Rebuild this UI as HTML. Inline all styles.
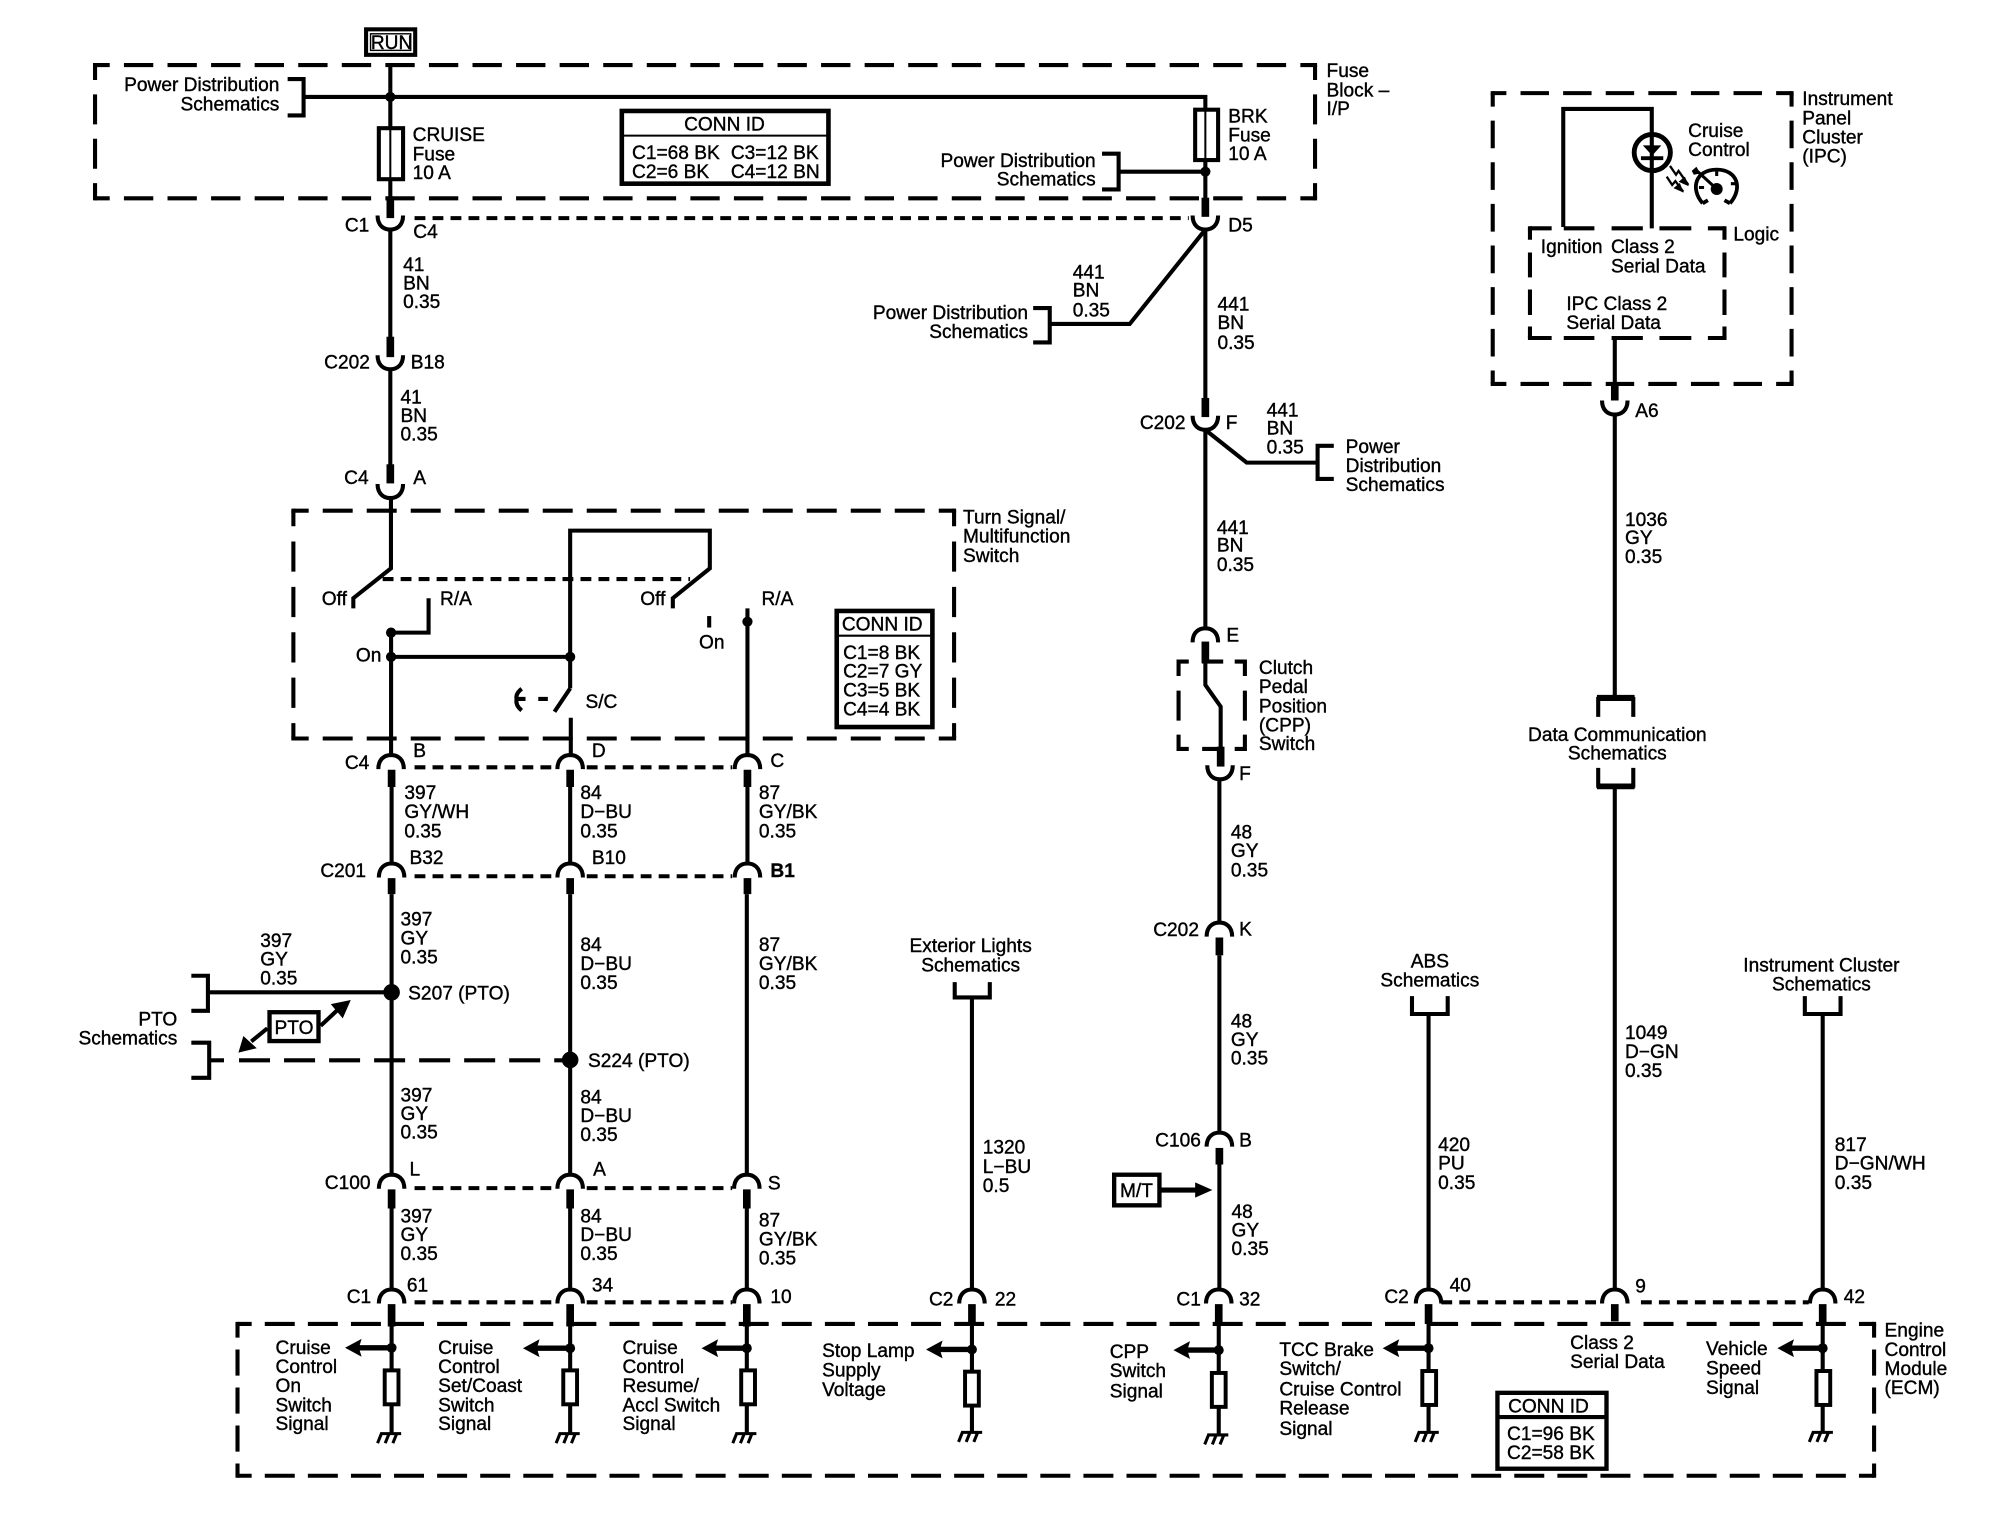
<!DOCTYPE html>
<html><head><meta charset="utf-8"><title>Cruise Control Schematic</title>
<style>
html,body{margin:0;padding:0;background:#fff}
svg{display:block;width:2000px;height:1520px}
text{font-family:"Liberation Sans",sans-serif;font-size:15px;fill:#000;stroke:#000;stroke-width:.3}
.m{text-anchor:middle}.e{text-anchor:end}
.w{fill:none;stroke:#000;stroke-width:3.2}
.t{fill:none;stroke:#000;stroke-width:6}
.d{fill:none;stroke:#000;stroke-width:3.2}
.c{fill:none;stroke:#000;stroke-width:3.2;stroke-linecap:square}
.s{fill:none;stroke:#000;stroke-width:3.2;stroke-dasharray:8.5 5.6}
.f{fill:#000;stroke:none}
</style></head><body>
<svg xmlns="http://www.w3.org/2000/svg" viewBox="0 0 1568 1191.7">
<defs>
<path id="u" class="w" d="M-10,-11 C-10,-3 -5,0 0,0 C5,0 10,-3 10,-11"/>
<path id="a" class="w" d="M-10,11 C-10,3 -5,0 0,0 C5,0 10,3 10,11"/>
<g id="g"><path fill="none" stroke="#000" stroke-width="2.4" d="M-8,0 H8.5 M-7,0 L-10,7.5 M-1,0 L-4,7.5 M5,0 L2,7.5"/></g>
<rect id="r" x="-5.4" y="1.4" width="10.8" height="26.6" fill="#fff" stroke="#000" stroke-width="3.1"/>
<g id="ar"><polygon class="f" points="0,0 13,-7 11.5,-2.1 38,-2.1 38,2.1 11.5,2.1 13,7"/></g>
</defs>
<rect width="1568" height="1192" fill="#fff"/>

<!-- dashed module boxes -->
<path class="d" style="stroke-dasharray:23 11.16;stroke-dashoffset:11.5" d="M74.5,51 H1031 M74.5,155.5 H1031"/>
<path class="d" style="stroke-dasharray:23.5 11.3;stroke-dashoffset:11.8" d="M74.5,51 V155.5 M1031,51 V155.5"/>
<path class="c" d="M74.5,51h.01 M1031,51h.01 M74.5,155.5h.01 M1031,155.5h.01"/>

<path class="d" style="stroke-dasharray:23.5 11;stroke-dashoffset:11.5" d="M230,400.4 H748 M230,579 H748"/>
<path class="d" style="stroke-dasharray:23.7 11.9;stroke-dashoffset:11.5" d="M230,400.4 V579 M748,400.4 V579"/>
<path class="c" d="M230,400.4h.01 M748,400.4h.01 M230,579h.01 M748,579h.01"/>

<path class="d" style="stroke-dasharray:23.5 10.28;stroke-dashoffset:12.4" d="M186.2,1038 H1469.3 M186.2,1157 H1469.3"/>
<path class="d" style="stroke-dasharray:20.5 9.3;stroke-dashoffset:9.8" d="M186.2,1038 V1157 M1469.3,1038 V1157"/>
<path class="c" d="M186.2,1038h.01 M1469.3,1038h.01 M186.2,1157h.01 M1469.3,1157h.01"/>

<path class="d" style="stroke-dasharray:22.3 11.1;stroke-dashoffset:11.6" d="M1170.3,73 H1404.6 M1170.3,301 H1404.6"/>
<path class="d" style="stroke-dasharray:21.7 10.95;stroke-dashoffset:11.1" d="M1170.3,73 V301 M1404.6,73 V301"/>
<path class="c" d="M1170.3,73h.01 M1404.6,73h.01 M1170.3,301h.01 M1404.6,301h.01"/>

<path class="d" d="M1199.5,179 H1216.5 M1226,179 H1250 M1263.5,179 H1288 M1301,179 H1326 M1339,179 H1352 M1199.5,265 H1216.5 M1226,265 H1250 M1263.5,265 H1288 M1301,265 H1326 M1339,265 H1352 M1199.5,179 V188 M1199.5,198 V217.5 M1199.5,227 V247 M1199.5,256 V265 M1352,179 V188 M1352,198 V217.5 M1352,227 V247 M1352,256 V265"/>
<path class="c" d="M1199.5,179h.01 M1352,179h.01 M1199.5,265h.01 M1352,265h.01"/>

<path class="w" d="M924,530 V518.7 H932 M942.5,518.7 H959 M968,518.7 H976 V530 M924,541.5 V565 M976,541.5 V565 M924,576 V587.2 H932 M942.5,587.2 H959 M968,587.2 H976 V576"/>

<!-- connector dashed lines -->
<path class="s" d="M325,171 H932"/>
<path class="s" d="M300,454 H541"/>
<path class="s" d="M325,601.6 H434 M460,601.6 H574"/>
<path class="s" d="M325,687 H434 M460,687 H574"/>
<path class="s" d="M325,931.5 H434 M460,931.5 H574"/>
<path class="s" d="M325,1021 H434 M460,1021 H574"/>
<path class="s" d="M1130,1021 H1253 M1286.5,1021 H1418"/>

<!-- RUN -->
<rect x="287" y="23" width="38.5" height="20" fill="#fff" stroke="#000" stroke-width="3.2"/>
<rect x="290.5" y="26.5" width="31.5" height="13" fill="none" stroke="#000" stroke-width="1.1"/>
<text class="m" x="307" y="38.6">RUN</text>

<!-- wire 41 -->
<path class="w" d="M306,51 V155 M237,76 H945 V85"/>
<circle class="f" cx="306" cy="76" r="4"/>
<path class="w" d="M225.5,62 H238 V90.5 H225.5"/>
<rect x="297" y="100.5" width="19" height="40" fill="#fff" stroke="#000" stroke-width="3.2"/>
<path style="stroke-width:1.6" class="w" d="M306,100 V141"/>
<path class="t" d="M306,154 V171"/><use href="#u" x="306" y="180"/>
<path class="w" d="M306,180 V265"/><path class="t" d="M306,264 V280"/><use href="#u" x="306" y="289.5"/>
<path class="w" d="M306,289 V365"/><path class="t" d="M306,364 V379"/><use href="#u" x="306" y="390.5"/>
<path class="w" d="M306.5,390 V445.6 L277,469 V477"/>

<!-- BRK -->
<rect x="937" y="86" width="18" height="39.5" fill="#fff" stroke="#000" stroke-width="3.2"/>
<path style="stroke-width:1.6" class="w" d="M945,86 V125"/>
<path class="w" d="M945,125 V156 M878,134.6 H945"/>
<circle class="f" cx="945" cy="134.6" r="4"/>
<path class="w" d="M864,120.5 H877 V148.5 H864"/>
<path class="t" d="M945,155 V170"/><use href="#u" x="945" y="180"/>
<path class="w" d="M945,180 V313 M945,180 L885.7,254 H824"/>
<path class="w" d="M810,241.5 H823 V268.5 H810"/>
<path class="t" d="M945,312 V327"/><use href="#u" x="945" y="337"/>
<path class="w" d="M945,337 V492.6 M945,337 L977.4,362.7 H1033"/>
<path class="w" d="M1045.7,349.5 H1033 V375.5 H1045.7"/>
<use href="#a" x="945" y="492.6"/>
<path class="t" d="M945,503 V520"/>
<path class="w" d="M945,520 V537 L957,554 V586"/>
<path class="t" d="M957,585.4 V601"/><use href="#u" x="956.5" y="611"/>
<path class="w" d="M956,611 V723.5"/><use href="#a" x="956" y="723.3"/>
<path class="t" d="M956,735 V749"/>
<path class="w" d="M956,749 V888"/><use href="#a" x="956" y="888"/>
<path class="t" d="M956,900 V913"/>
<path class="w" d="M956,913 V1011"/>
<rect x="873.5" y="921" width="35.5" height="24" fill="#fff" stroke="#000" stroke-width="3.4"/>
<path class="f" d="M910,931 H937 V927 L950.5,933 L937,939 V935 H910 Z"/>

<!-- switch block -->
<path class="w" d="M336,469 V496 H306.6"/>
<circle class="f" cx="306.6" cy="496" r="4"/>
<path class="w" d="M306.6,496 V592 M306.6,515 H447"/>
<circle class="f" cx="306.6" cy="515" r="4"/><circle class="f" cx="447" cy="515" r="4"/>
<path class="w" d="M447,539.7 V416 H556.5 V445.6 L527.5,469 V477"/>
<path class="w" d="M447,539.7 L434.7,558 M447.5,562.7 V592"/>
<path class="w" d="M422,548 H429.5 M409,540 Q404,544 405,548 Q404,553 409,557 M405,548 H412"/>
<path class="w" d="M556,483 V492"/>
<path class="w" d="M586,477 V592"/><circle class="f" cx="586" cy="487.4" r="4"/>
<rect x="656" y="479" width="75" height="91" fill="#fff" stroke="#000" stroke-width="3.6"/>
<path style="stroke-width:1.6" class="w" d="M656,498.4 H731"/>

<!-- three main wires -->
<g>
<use href="#a" x="306.6" y="592"/><use href="#a" x="447" y="592"/><use href="#a" x="586" y="592"/>
<path class="t" d="M307,603.5 V617 M447,603.5 V617 M586,603.5 V617"/>
<path class="w" d="M307,617 V677 M447,617 V677 M586,617 V677"/>
<use href="#a" x="307" y="677"/><use href="#a" x="447" y="677"/><use href="#a" x="586" y="677"/>
<path class="t" d="M307,688.5 V701 M447,688.5 V701 M586,688.5 V701"/>
<path class="w" d="M307,701 V921 M447,701 V921 M585.5,701 V921"/>
<use href="#a" x="307" y="921"/><use href="#a" x="447" y="921"/><use href="#a" x="585.5" y="921"/>
<path class="t" d="M307,932.5 V947.5 M447,932.5 V947.5 M585.5,932.5 V947.5"/>
<path class="w" d="M307,947 V1011 M447,947 V1011 M585.5,947 V1011"/>
</g>
<!-- PTO -->
<circle class="f" cx="307" cy="778" r="6.5"/><circle class="f" cx="447" cy="831" r="6.5"/>
<path class="w" d="M163.5,778 H307"/>
<path class="w" d="M150,765 H163 V792.5 H150"/>
<path class="w" d="M150,817.5 H164 V845 H150"/>
<path class="d" d="M164,831.3 H175.6"/>
<path class="d" style="stroke-dasharray:24.3 11" d="M187.4,831.3 H447"/>
<rect x="211.3" y="793.6" width="38.4" height="22.6" fill="#fff" stroke="#000" stroke-width="3.4"/>
<path class="w" d="M209.6,806.2 L197,816.5 M251.4,804.2 L265,791.5"/>
<polygon class="f" points="186.9,825.3 190.8,812.2 201.3,821.8"/>
<polygon class="f" points="275,784 259.3,787.2 268.7,798.4"/>

<!-- right wires -->
<path class="w" d="M748.5,770 V782 H776 V770"/><path class="w" d="M762,782 V1011"/>
<path class="w" d="M1107,781 V795 H1135 V781"/><path class="w" d="M1120,795 V1011"/>
<path class="w" d="M1415,781 V795 H1443 V781"/><path class="w" d="M1429,795 V1011"/>
<path class="w" d="M1266,265 V302 M1266,325 V546 M1266,617 V1011"/>
<path class="t" d="M1266,301 V314"/><use href="#u" x="1266" y="325"/>
<path class="w" d="M1253,562 V548 H1280.5 V562"/>
<path style="stroke-width:4.5" class="w" d="M1252,547 H1281.5"/>
<path class="w" d="M1253,602 V616 H1280.5 V602"/>
<path style="stroke-width:4.5" class="w" d="M1252,616.5 H1281.5"/>

<!-- IPC contents -->
<path class="w" d="M1225.6,178 V85.4 H1295 V179"/>
<circle cx="1295.4" cy="119.6" r="14.2" fill="#fff" stroke="#000" stroke-width="3.8"/>
<path class="w" d="M1295,105 V134"/>
<polygon class="f" points="1288,114 1302.5,114 1295.3,122"/>
<path class="w" style="stroke-width:3" d="M1286.5,124 H1304"/>
<path fill="none" stroke="#000" stroke-width="1.8" d="M1309.3,130.1 L1314,137 L1316,134 L1323.7,145 M1306.7,138.5 L1311,145 L1313.5,142 L1319.7,150.3"/>
<polygon class="f" points="1324,146 1316,142.5 1321,138.5"/><polygon class="f" points="1320,151 1312,147.5 1317,143.5"/>
<path class="w" style="stroke-width:3" d="M1334.9,159.4 C1325,148 1329,133 1345.9,133 C1362.5,133 1366.5,148 1356.3,159.4 M1334.9,159.4 L1339,157 M1356.3,159.4 L1352,157"/>
<path fill="none" stroke="#000" stroke-width="2.4" d="M1345.9,148.2 L1331,134.5 M1345.9,133 V138 M1332,147 H1336 M1361,144 H1357"/>
<circle class="f" cx="1345.9" cy="148.2" r="4.7"/>
<polygon class="f" points="1326.3,134 1330,130.7 1333,135.9 1328,137"/>

<!-- ECM columns -->
<path class="t" d="M307,1022.5 V1040 M447,1022.5 V1040 M585.5,1022.5 V1040 M762,1022.5 V1038 M955.5,1022.5 V1038 M1120,1022.5 V1038 M1266,1022.5 V1036 M1429,1022.5 V1038"/>
<use href="#a" x="307" y="1011"/><use href="#a" x="447" y="1011"/><use href="#a" x="585.5" y="1011"/>
<use href="#a" x="762" y="1011"/><use href="#a" x="955.5" y="1011"/><use href="#a" x="1120" y="1011"/><use href="#a" x="1266" y="1011"/><use href="#a" x="1429" y="1011"/>
<path class="w" d="M307,1038 V1124 M447,1038 V1124 M585.5,1038 V1124 M762,1038 V1123 M955.5,1038 V1125 M1120,1038 V1123 M1429,1038 V1123"/>
<use href="#ar" x="270.5" y="1056.7"/><use href="#ar" x="410" y="1057"/><use href="#ar" x="550" y="1057"/>
<use href="#ar" x="726" y="1058"/><use href="#ar" x="920" y="1058.5"/><use href="#ar" x="1084" y="1057"/><use href="#ar" x="1393.5" y="1057"/>
<circle class="f" cx="307" cy="1056.7" r="3.9"/><circle class="f" cx="447" cy="1057" r="3.9"/><circle class="f" cx="585.5" cy="1057" r="3.9"/>
<circle class="f" cx="762" cy="1058" r="3.9"/><circle class="f" cx="955.5" cy="1058.5" r="3.9"/><circle class="f" cx="1120" cy="1057" r="3.9"/><circle class="f" cx="1429" cy="1057" r="3.9"/>
<use href="#r" x="307" y="1073"/><use href="#r" x="447" y="1073"/><use href="#r" x="586.5" y="1073"/>
<use href="#r" x="762" y="1074"/><use href="#r" x="955.5" y="1075"/><use href="#r" x="1120.5" y="1073.5"/><use href="#r" x="1429.5" y="1073.5"/>
<use href="#g" x="306" y="1124"/><use href="#g" x="446" y="1124"/><use href="#g" x="584.5" y="1124"/>
<use href="#g" x="761.5" y="1123"/><use href="#g" x="954.5" y="1125"/><use href="#g" x="1119.5" y="1123"/><use href="#g" x="1428.5" y="1123"/>

<!-- CONN ID boxes -->
<rect x="487.5" y="87" width="162" height="57" fill="#fff" stroke="#000" stroke-width="3.6"/>
<path style="stroke-width:1.6" class="w" d="M488,106.3 H650"/>
<rect x="1174" y="1092" width="85.5" height="59.5" fill="#fff" stroke="#000" stroke-width="3.4"/>
<path class="w" d="M1174,1111 H1259"/>

<!-- TEXT -->
<text class="e" x="219"><tspan x="219" y="71.5">Power Distribution</tspan><tspan x="219" y="86.5">Schematics</tspan></text>
<text><tspan x="323.5" y="110.7">CRUISE</tspan><tspan x="323.5" y="125.8">Fuse</tspan><tspan x="323.5" y="140.4">10 A</tspan></text>
<text class="m" x="568" y="102.5">CONN ID</text>
<text><tspan x="495.5" y="124.5">C1=68 BK</tspan><tspan x="495.5" y="139.5">C2=6 BK</tspan><tspan x="573" y="124.5">C3=12 BK</tspan><tspan x="573" y="139.5">C4=12 BN</tspan></text>
<text><tspan x="963" y="96">BRK</tspan><tspan x="963" y="111">Fuse</tspan><tspan x="963" y="125.5">10 A</tspan></text>
<text class="e"><tspan x="859" y="131">Power Distribution</tspan><tspan x="859" y="145.5">Schematics</tspan></text>
<text><tspan x="1040" y="60.5">Fuse</tspan><tspan x="1040" y="75.5">Block –</tspan><tspan x="1040" y="90">I/P</tspan></text>
<text class="e" x="289.5" y="181.5">C1</text><text x="324" y="186.5">C4</text><text x="963" y="181.5">D5</text>
<text><tspan x="316" y="212.5">41</tspan><tspan x="316" y="227">BN</tspan><tspan x="316" y="241.5">0.35</tspan></text>
<text class="e" x="290" y="289">C202</text><text x="322" y="289">B18</text>
<text><tspan x="314" y="316.5">41</tspan><tspan x="314" y="331">BN</tspan><tspan x="314" y="345.5">0.35</tspan></text>
<text class="e" x="289" y="379.5">C4</text><text x="324" y="379.5">A</text>
<text><tspan x="755" y="410.5">Turn Signal/</tspan><tspan x="755" y="425.5">Multifunction</tspan><tspan x="755" y="440.5">Switch</tspan></text>
<text class="e" x="272" y="474.5">Off</text><text x="345" y="474.5">R/A</text><text x="502" y="474.5">Off</text><text x="597" y="474.5">R/A</text>
<text x="279" y="518.5">On</text><text x="548" y="508.5">On</text><text x="459" y="555">S/C</text>
<text x="660" y="494.5">CONN ID</text>
<text><tspan x="661" y="516.5">C1=8 BK</tspan><tspan x="661" y="531">C2=7 GY</tspan><tspan x="661" y="546">C3=5 BK</tspan><tspan x="661" y="561">C4=4 BK</tspan></text>
<text class="e" x="289.5" y="603">C4</text><text x="324" y="593.5">B</text><text x="464" y="593.5">D</text><text x="604" y="601.5">C</text>
<text><tspan x="317" y="626.5">397</tspan><tspan x="317" y="641.5">GY/WH</tspan><tspan x="317" y="656.5">0.35</tspan></text>
<text><tspan x="455" y="626.5">84</tspan><tspan x="455" y="641.5">D−BU</tspan><tspan x="455" y="656.5">0.35</tspan></text>
<text><tspan x="595" y="626.5">87</tspan><tspan x="595" y="641.5">GY/BK</tspan><tspan x="595" y="656.5">0.35</tspan></text>
<text class="e" x="287" y="687.5">C201</text><text x="321" y="677.5">B32</text><text x="464" y="677.5">B10</text><text x="604" y="687.5" style="font-weight:bold">B1</text>
<text><tspan x="314" y="725.5">397</tspan><tspan x="314" y="740.5">GY</tspan><tspan x="314" y="755.5">0.35</tspan></text>
<text><tspan x="455" y="745.5">84</tspan><tspan x="455" y="760.5">D−BU</tspan><tspan x="455" y="775.5">0.35</tspan></text>
<text><tspan x="595" y="745.5">87</tspan><tspan x="595" y="760.5">GY/BK</tspan><tspan x="595" y="775.5">0.35</tspan></text>
<text><tspan x="204" y="742.5">397</tspan><tspan x="204" y="757">GY</tspan><tspan x="204" y="772">0.35</tspan></text>
<text class="e"><tspan x="139" y="804">PTO</tspan><tspan x="139" y="819">Schematics</tspan></text>
<text class="m" x="230.5" y="810.5">PTO</text>
<text x="320" y="783.5">S207 (PTO)</text><text x="461" y="836.5">S224 (PTO)</text>
<text><tspan x="314" y="863.5">397</tspan><tspan x="314" y="878">GY</tspan><tspan x="314" y="892.5">0.35</tspan></text>
<text><tspan x="455" y="865">84</tspan><tspan x="455" y="879.5">D−BU</tspan><tspan x="455" y="894.5">0.35</tspan></text>
<text class="e" x="290.5" y="932">C100</text><text x="321" y="921.5">L</text><text x="465" y="921.5">A</text><text x="602" y="932.5">S</text>
<text><tspan x="314" y="958.5">397</tspan><tspan x="314" y="973">GY</tspan><tspan x="314" y="988">0.35</tspan></text>
<text><tspan x="455" y="958.5">84</tspan><tspan x="455" y="973">D−BU</tspan><tspan x="455" y="988">0.35</tspan></text>
<text><tspan x="595" y="961.5">87</tspan><tspan x="595" y="976.5">GY/BK</tspan><tspan x="595" y="991.5">0.35</tspan></text>
<text class="e" x="291" y="1021.5">C1</text><text x="319" y="1012.5">61</text><text x="464" y="1012.5">34</text><text x="604" y="1021.5">10</text>

<text class="e"><tspan x="806" y="250">Power Distribution</tspan><tspan x="806" y="265">Schematics</tspan></text>
<text><tspan x="841" y="218.5">441</tspan><tspan x="841" y="232.5">BN</tspan><tspan x="841" y="248">0.35</tspan></text>
<text><tspan x="954.5" y="243.5">441</tspan><tspan x="954.5" y="258">BN</tspan><tspan x="954.5" y="273.5">0.35</tspan></text>
<text class="e" x="929.5" y="336.5">C202</text><text x="961" y="336.5">F</text>
<text><tspan x="993" y="326.5">441</tspan><tspan x="993" y="340.5">BN</tspan><tspan x="993" y="355.5">0.35</tspan></text>
<text><tspan x="1055" y="355">Power</tspan><tspan x="1055" y="370">Distribution</tspan><tspan x="1055" y="385">Schematics</tspan></text>
<text><tspan x="954" y="418.5">441</tspan><tspan x="954" y="432.5">BN</tspan><tspan x="954" y="447.5">0.35</tspan></text>
<text x="961.5" y="503">E</text>
<text><tspan x="987" y="528.5">Clutch</tspan><tspan x="987" y="543.5">Pedal</tspan><tspan x="987" y="558.5">Position</tspan><tspan x="987" y="573.5">(CPP)</tspan><tspan x="987" y="588">Switch</tspan></text>
<text x="971.5" y="611.5">F</text>
<text><tspan x="965" y="657.5">48</tspan><tspan x="965" y="672">GY</tspan><tspan x="965" y="687">0.35</tspan></text>
<text class="e" x="940" y="734">C202</text><text x="971.5" y="733.5">K</text>
<text><tspan x="965" y="805.5">48</tspan><tspan x="965" y="820">GY</tspan><tspan x="965" y="834.5">0.35</tspan></text>
<text class="e" x="941.5" y="899">C106</text><text x="971.5" y="899">B</text>
<text class="m" x="891" y="938.5">M/T</text>
<text><tspan x="965.5" y="955">48</tspan><tspan x="965.5" y="969.5">GY</tspan><tspan x="965.5" y="984">0.35</tspan></text>
<text class="e" x="941.5" y="1023.5">C1</text><text x="971.5" y="1023.5">32</text>
<text class="e" x="747.5" y="1023.5">C2</text><text x="780" y="1023.5">22</text>
<text class="e" x="1104.5" y="1021.5">C2</text><text x="1136.5" y="1012.5">40</text><text x="1282" y="1013.5">9</text><text x="1445.5" y="1021.5">42</text>
<text class="m"><tspan x="761" y="746.5">Exterior Lights</tspan><tspan x="761" y="761.5">Schematics</tspan></text>
<text class="m"><tspan x="1121" y="758.5">ABS</tspan><tspan x="1121" y="773.5">Schematics</tspan></text>
<text class="m"><tspan x="1428" y="761.5">Instrument Cluster</tspan><tspan x="1428" y="776.5">Schematics</tspan></text>
<text class="m"><tspan x="1268" y="581">Data Communication</tspan><tspan x="1268" y="595.5">Schematics</tspan></text>
<text><tspan x="770.5" y="904.5">1320</tspan><tspan x="770.5" y="919.5">L−BU</tspan><tspan x="770.5" y="934.5">0.5</tspan></text>
<text><tspan x="1127.5" y="902.5">420</tspan><tspan x="1127.5" y="917">PU</tspan><tspan x="1127.5" y="932">0.35</tspan></text>
<text><tspan x="1438.5" y="902.5">817</tspan><tspan x="1438.5" y="917">D−GN/WH</tspan><tspan x="1438.5" y="932">0.35</tspan></text>
<text><tspan x="1274" y="412.5">1036</tspan><tspan x="1274" y="426.5">GY</tspan><tspan x="1274" y="441.5">0.35</tspan></text>
<text><tspan x="1274" y="814.5">1049</tspan><tspan x="1274" y="829.5">D−GN</tspan><tspan x="1274" y="844.5">0.35</tspan></text>
<text x="1282" y="327">A6</text>

<text><tspan x="216" y="1061.5">Cruise</tspan><tspan x="216" y="1076.5">Control</tspan><tspan x="216" y="1091.5">On</tspan><tspan x="216" y="1106.5">Switch</tspan><tspan x="216" y="1121">Signal</tspan></text>
<text><tspan x="343.5" y="1061.5">Cruise</tspan><tspan x="343.5" y="1076.5">Control</tspan><tspan x="343.5" y="1091.5">Set/Coast</tspan><tspan x="343.5" y="1106.5">Switch</tspan><tspan x="343.5" y="1121">Signal</tspan></text>
<text><tspan x="488" y="1061.5">Cruise</tspan><tspan x="488" y="1076.5">Control</tspan><tspan x="488" y="1091.5">Resume/</tspan><tspan x="488" y="1106.5">Accl Switch</tspan><tspan x="488" y="1121">Signal</tspan></text>
<text><tspan x="644.5" y="1064">Stop Lamp</tspan><tspan x="644.5" y="1079">Supply</tspan><tspan x="644.5" y="1094.5">Voltage</tspan></text>
<text><tspan x="870" y="1064.5">CPP</tspan><tspan x="870" y="1079.5">Switch</tspan><tspan x="870" y="1095.5">Signal</tspan></text>
<text><tspan x="1003" y="1063">TCC Brake</tspan><tspan x="1003" y="1078">Switch/</tspan><tspan x="1003" y="1094">Cruise Control</tspan><tspan x="1003" y="1109">Release</tspan><tspan x="1003" y="1125">Signal</tspan></text>
<text><tspan x="1231" y="1057.5">Class 2</tspan><tspan x="1231" y="1072.5">Serial Data</tspan></text>
<text><tspan x="1337.5" y="1062.5">Vehicle</tspan><tspan x="1337.5" y="1077.5">Speed</tspan><tspan x="1337.5" y="1093">Signal</tspan></text>
<text><tspan x="1477.5" y="1048">Engine</tspan><tspan x="1477.5" y="1063">Control</tspan><tspan x="1477.5" y="1078">Module</tspan><tspan x="1477.5" y="1093">(ECM)</tspan></text>
<text class="m" x="1214" y="1107.5">CONN ID</text>
<text><tspan x="1181.5" y="1129">C1=96 BK</tspan><tspan x="1181.5" y="1144">C2=58 BK</tspan></text>

<text><tspan x="1323.5" y="107.5">Cruise</tspan><tspan x="1323.5" y="122.5">Control</tspan></text>
<text><tspan x="1413" y="82.5">Instrument</tspan><tspan x="1413" y="97.5">Panel</tspan><tspan x="1413" y="112.5">Cluster</tspan><tspan x="1413" y="127.5">(IPC)</tspan></text>
<text x="1359" y="188.5">Logic</text>
<text x="1208" y="198.5">Ignition</text>
<text><tspan x="1263" y="198.5">Class 2</tspan><tspan x="1263" y="213.5">Serial Data</tspan></text>
<text><tspan x="1228" y="243">IPC Class 2</tspan><tspan x="1228" y="258">Serial Data</tspan></text>
</svg>
</body></html>
